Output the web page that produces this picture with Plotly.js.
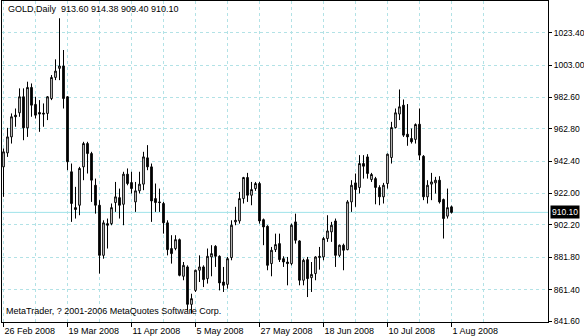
<!DOCTYPE html>
<html><head><meta charset="utf-8">
<script src="https://cdn.plot.ly/plotly-3.0.1.min.js"></script>
<style>html,body{margin:0;padding:0;background:#fff}#chart{width:584px;height:336px}</style>
</head><body><div id="chart"></div>
<script>
const symbol = "GOLD,Daily";
const copyright = "MetaTrader, ? 2001-2006 MetaQuotes Software Corp.";
const open = [938.8,947.6,957.7,971.4,972.9,983.0,963.4,988.9,978.2,973.1,972.7,972.5,981.9,995.2,1000.9,1002.4,983.0,935.7,913.1,914.6,
938.8,953.5,947.2,927.2,914.6,883.0,903.0,903.0,916.3,919.4,915.2,934.2,928.9,916.7,923.7,927.9,944.5,938.8,918.8,916.7,
915.7,903.5,887.3,887.3,892.9,869.8,875.7,852.1,860.9,873.6,875.7,868.3,882.0,888.7,882.4,866.2,864.7,881.6,904.1,904.7,
918.8,932.1,920.9,925.1,928.3,905.5,901.3,877.8,886.6,890.4,880.9,878.8,877.8,904.1,892.1,867.3,880.3,868.9,871.5,881.6,
882.0,893.6,897.8,904.7,883.0,889.4,886.6,916.7,928.7,925.8,940.9,945.1,930.8,931.4,925.8,919.9,928.3,944.7,963.6,972.1,
977.7,959.4,956.7,956.1,965.7,945.5,919.9,927.9,928.7,930.4,918.2,907.7,913.60];
const high = [950.4,963.4,972.5,975.6,988.3,988.3,992.5,991.4,983.0,980.9,978.8,983.4,996.7,1006.6,1032.5,1012.5,983.4,940.9,926.2,938.8,
954.6,954.6,948.3,931.4,917.8,905.1,906.2,915.7,929.3,925.1,935.7,937.8,935.7,929.3,935.7,948.3,952.5,940.9,928.3,925.1,
916.7,905.1,895.7,895.7,893.6,878.8,876.7,858.8,874.0,883.0,876.7,887.3,889.4,889.4,883.0,875.7,882.0,905.1,913.6,923.0,
932.5,935.0,929.3,929.3,929.3,906.2,902.0,888.3,896.7,896.7,882.4,882.0,903.0,909.3,892.5,880.9,882.0,878.8,882.4,888.3,
894.6,908.3,904.1,906.2,889.8,890.4,917.8,930.4,934.6,946.2,946.2,946.8,935.0,932.5,927.2,928.7,947.2,967.2,975.6,987.6,
981.3,978.4,963.0,966.2,975.6,946.2,930.4,935.0,932.5,932.9,918.8,925.1,914.38];
const low = [919.9,945.1,953.5,964.1,970.4,955.6,957.7,970.4,969.3,960.9,964.1,968.3,980.9,993.5,993.5,975.6,936.7,904.1,906.2,908.3,
930.4,934.6,916.7,909.3,871.5,880.9,887.3,902.0,910.4,906.2,902.0,927.2,922.0,910.4,922.0,924.1,936.7,904.1,910.4,910.4,
896.7,883.0,877.8,886.2,869.8,867.3,848.3,846.2,859.9,866.2,863.0,865.2,869.8,875.7,860.9,859.9,862.0,879.9,902.0,903.0,
915.7,916.7,914.6,923.7,903.0,889.4,873.6,869.8,885.1,878.8,875.7,864.1,876.7,890.4,864.1,864.1,856.7,859.9,867.3,874.0,
879.9,891.5,891.5,875.7,882.0,873.6,886.2,910.4,913.6,922.0,931.4,931.4,929.3,915.2,914.6,915.7,925.1,940.9,963.0,968.3,
957.7,952.1,953.5,953.5,943.0,917.8,915.7,917.8,922.0,915.7,893.6,906.2,909.40];
const close = [948.3,957.7,970.4,970.4,983.0,963.4,988.9,977.7,971.4,972.1,972.1,983.0,995.2,999.2,1002.4,981.9,942.0,915.7,911.9,937.8,
953.5,947.2,930.4,914.6,883.0,903.5,902.0,913.1,919.9,914.6,934.2,928.3,925.1,923.7,927.9,945.1,938.8,917.3,916.3,916.3,
903.5,886.6,884.1,892.9,870.4,876.7,852.1,855.7,873.6,875.7,867.7,882.4,884.1,882.4,865.6,864.1,880.9,902.0,905.1,918.8,
932.1,920.9,924.5,928.3,904.7,900.9,876.7,886.2,889.8,880.3,878.8,877.8,902.0,892.5,867.3,879.9,868.3,871.0,882.0,882.4,
893.6,898.4,902.0,883.0,889.4,886.2,916.7,927.2,924.5,940.9,939.2,934.6,934.0,925.8,919.9,927.2,946.8,963.6,972.9,976.7,
958.8,957.7,954.6,965.5,946.2,919.9,927.2,929.3,930.4,916.7,906.2,913.1,910.10];
const xTickBars = [0,16,32,48,64,80,96,112];
const xTickLabels = ["26 Feb 2008","19 Mar 2008","11 Apr 2008","5 May 2008","27 May 2008","18 Jun 2008","10 Jul 2008","1 Aug 2008"];
const yTickValues = [1023.40,1003.00,982.60,962.80,942.40,922.00,902.20,881.80,861.40,841.60];

const n = close.length;
const x = close.map((_, i) => i);
const gridX = [];
for (let k = 8; k <= 136; k += 16) gridX.push(k);
const gridColor = '#b2e2e6';
const lastLine = '#9fe3ea';
const FONT = '"Liberation Sans", Arial, sans-serif';
const L = n - 1;
const header = symbol + '\u00a0\u00a0' + [open[L], high[L], low[L], close[L]].map(v => v.toFixed(2)).join(' ');

const trace = {
  type: 'candlestick', x: x, open: open, high: high, low: low, close: close,
  increasing: {line: {color: '#000', width: 1}, fillcolor: '#fff'},
  decreasing: {line: {color: '#000', width: 1}, fillcolor: '#000'},
  whiskerwidth: 0, hoverinfo: 'skip'
};

const layout = {
  width: 584, height: 336,
  margin: {l: 2, r: 36, t: 1, b: 14, pad: 0},
  paper_bgcolor: '#fff', plot_bgcolor: '#fff',
  showlegend: false, boxgap: 0.4,
  font: {family: FONT, size: 9, color: '#000'},
  xaxis: {
    range: [-0.375, 136.125], tickmode: 'array', tickvals: xTickBars, ticktext: xTickLabels,
    ticks: 'outside', ticklen: 4, tickcolor: '#000', tickwidth: 1,
    ticklabelposition: 'outside right', tickfont: {size: 9, family: FONT},
    showgrid: true, gridcolor: gridColor, griddash: '3px,3px', gridwidth: 1,
    minor: {tickmode: 'array', tickvals: gridX, showgrid: true, gridcolor: gridColor, griddash: '3px,3px', ticks: ''},
    showline: true, linecolor: '#000', linewidth: 1, mirror: true, zeroline: false,
    rangeslider: {visible: false}, fixedrange: true
  },
  yaxis: {
    side: 'right', range: [840.97, 1043.4], tickmode: 'array', tickvals: yTickValues,
    ticktext: yTickValues.map(v => v.toFixed(2)),
    ticks: 'outside', ticklen: 3, tickcolor: '#000', tickwidth: 1, tickfont: {size: 8.5, family: FONT},
    showgrid: true, gridcolor: gridColor, griddash: '3px,3px', gridwidth: 1,
    showline: true, linecolor: '#000', linewidth: 1, mirror: true, zeroline: false, fixedrange: true
  },
  shapes: [{type: 'line', xref: 'paper', x0: 0, x1: 1, yref: 'y', y0: close[L], y1: close[L],
    line: {color: lastLine, width: 1}, layer: 'below'}],
  annotations: [
    {xref: 'paper', yref: 'paper', x: 0, y: 1, xanchor: 'left', yanchor: 'top', xshift: 4, yshift: -1,
     text: header, showarrow: false, font: {family: FONT, size: 9, color: '#000'}},
    {xref: 'paper', yref: 'paper', x: 0, y: 0, xanchor: 'left', yanchor: 'bottom', xshift: 2, yshift: 4,
     text: copyright, showarrow: false, font: {family: FONT, size: 9, color: '#000'}},
    {xref: 'paper', yref: 'y', x: 1, y: close[L], xanchor: 'left', yanchor: 'middle', xshift: 2,
     text: close[L].toFixed(2), showarrow: false, bgcolor: '#000', borderpad: 1,
     font: {family: FONT, size: 8.5, color: '#fff'}}
  ]
};

Plotly.newPlot('chart', [trace], layout, {staticPlot: true, displayModeBar: false});
</script>
</body></html>
